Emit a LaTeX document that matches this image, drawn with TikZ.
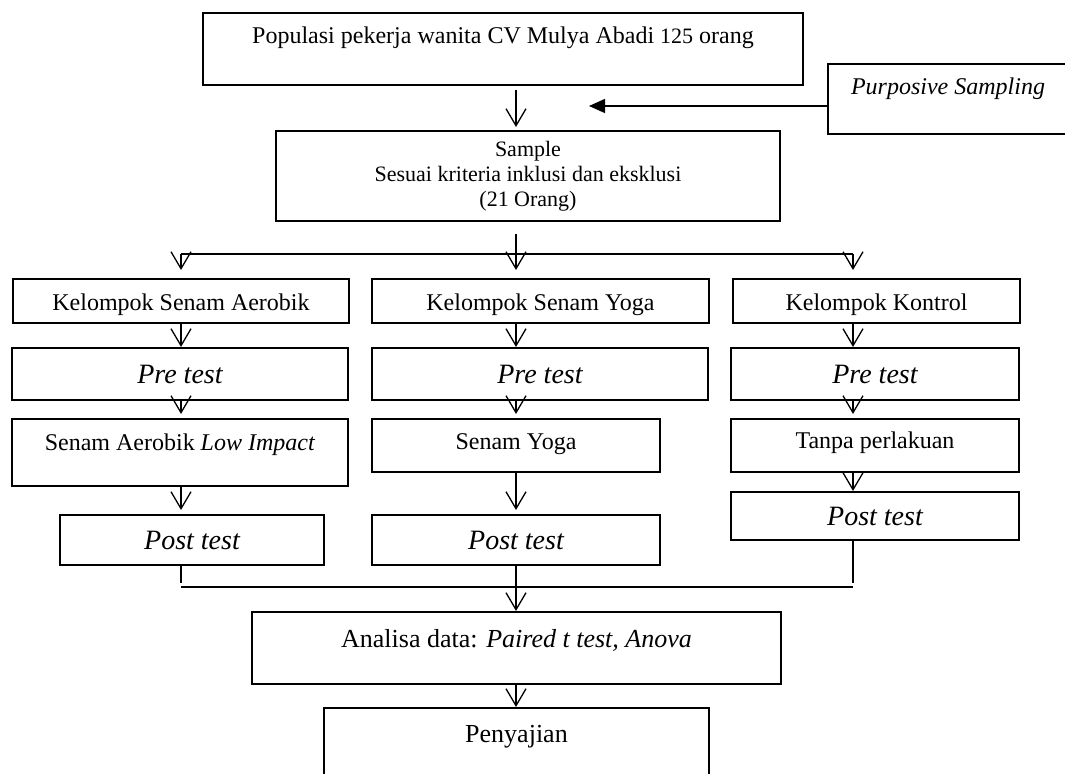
\documentclass[tikz,border=0pt]{standalone}
\usepackage{fontspec}
\setmainfont{Liberation Serif}
\usetikzlibrary{arrows.meta,positioning,calc}
\tikzset{
  blok/.style={draw,line width=1pt,inner sep=0pt,align=center,anchor=north},
  tes/.style={blok,font=\fontsize{14}{16}\selectfont\itshape},
  garis/.style={line width=0.65pt},
  panah/.style={garis,-{Straight Barb[length=8.5pt,width=10pt]}},
  segitiga/.style={garis,-{Triangle[length=8pt,width=7pt]}}
}

\begin{document}
\begin{tikzpicture}[x=0.5pt,y=-0.5pt,font=\fontsize{12}{14}\selectfont]
\clip (0,0) rectangle (1065,774);
% kolom dan titik bantu
\coordinate (colA) at (181,0);
\coordinate (colB) at (516,0);
\coordinate (colC) at (853,0);
\coordinate (cabang) at (516,254);
\coordinate (gabung) at (516,587);
\coordinate (tuju) at (589,106);
% kotak atas
\node[blok,minimum width=300pt,text height=15.5pt,text depth=20.5pt] (pop) at (503,12) {Populasi pekerja wanita CV Mulya Abadi {\fontsize{11}{13}\selectfont 125} orang};
\node[blok,minimum width=120pt,text height=15.25pt,text depth=19.75pt] (purp) at (948,63) {\itshape Purposive Sampling};
\node[blok,minimum width=252pt,minimum height=45pt,font=\fontsize{11}{12.5}\selectfont] (sample) at (528,130) {Sample\\Sesuai kriteria inklusi dan eksklusi\\(21 Orang)};
% kelompok
\node[blok,minimum width=168pt,text height=16pt,text depth=6pt] (kelA) at (181,278) {Kelompok Senam Aerobik};
\node[blok,minimum width=168.5pt,text height=16pt,text depth=6pt] (kelB) at (540.5,278) {Kelompok Senam Yoga};
\node[blok,minimum width=143.5pt,text height=16pt,text depth=6pt] (kelC) at (876.5,278) {Kelompok Kontrol};
\node[tes,minimum width=168pt,minimum height=26pt] (preA) at (180,347) {Pre test};
\node[tes,minimum width=168pt,minimum height=26pt] (preB) at (540,347) {Pre test};
\node[tes,minimum width=144pt,minimum height=26pt] (preC) at (875,347) {Pre test};
\node[blok,minimum width=168pt,text height=16pt,text depth=17.5pt] (trA) at (180,418) {Senam Aerobik \textit{Low Impact}};
\node[blok,minimum width=144pt,text height=15.5pt,text depth=11pt] (trB) at (516,418) {Senam Yoga};
\node[blok,minimum width=144pt,text height=15pt,text depth=11.5pt] (trC) at (875,418) {Tanpa perlakuan};
\node[tes,minimum width=132pt,minimum height=25pt] (postA) at (192,514) {Post test};
\node[tes,minimum width=144pt,minimum height=25pt] (postB) at (516,514) {Post test};
\node[tes,minimum width=144pt,minimum height=24pt] (postC) at (875,491) {Post test};
% analisa
\node[blok,minimum width=264.5pt,text height=17.5pt,text depth=18.5pt,font=\fontsize{13}{15}\selectfont] (anl) at (516.5,611) {Analisa data: \textit{Paired t test, Anova}};
\node[blok,minimum width=192.5pt,text height=17pt,text depth=19pt,font=\fontsize{13}{15}\selectfont] (saji) at (516.5,707) {Penyajian};
% panah
\draw[panah,shorten <=2pt,shorten >=1.5pt] (pop.south -| colB) -- (sample.north -| colB);
\draw[segitiga] (purp.west |- tuju) -- (tuju);
\draw[garis,shorten <=6pt] (sample.south -| colB) -- (cabang);
\draw[garis] (cabang -| colA) -- (cabang -| colC);
\foreach \k/\kol in {kelA/colA,kelB/colB,kelC/colC}
  \draw[panah,shorten >=4pt] (cabang -| \kol) -- (\k.north -| \kol);
\foreach \a/\b/\kol in {kelA/preA/colA,kelB/preB/colB,kelC/preC/colC}
  \draw[panah] (\a.south -| \kol) -- (\b.north -| \kol);
\foreach \a/\b/\kol in {preA/trA/colA,preB/trB/colB,preC/trC/colC,trA/postA/colA,trB/postB/colB}
  \draw[panah,shorten >=2pt] (\a.south -| \kol) -- (\b.north -| \kol);
\draw[panah] (trC.south -| colC) -- (postC.north -| colC);
\draw[garis,shorten >=2pt] (postA.south -| colA) -- (gabung -| colA);
\draw[garis,shorten >=2pt] (postC.south -| colC) -- (gabung -| colC);
\draw[garis] (gabung -| colA) -- (gabung -| colC);
\draw[panah] (postB.south -| colB) -- (anl.north -| colB);
\draw[panah] (anl.south -| colB) -- (saji.north -| colB);
\end{tikzpicture}
\end{document}
